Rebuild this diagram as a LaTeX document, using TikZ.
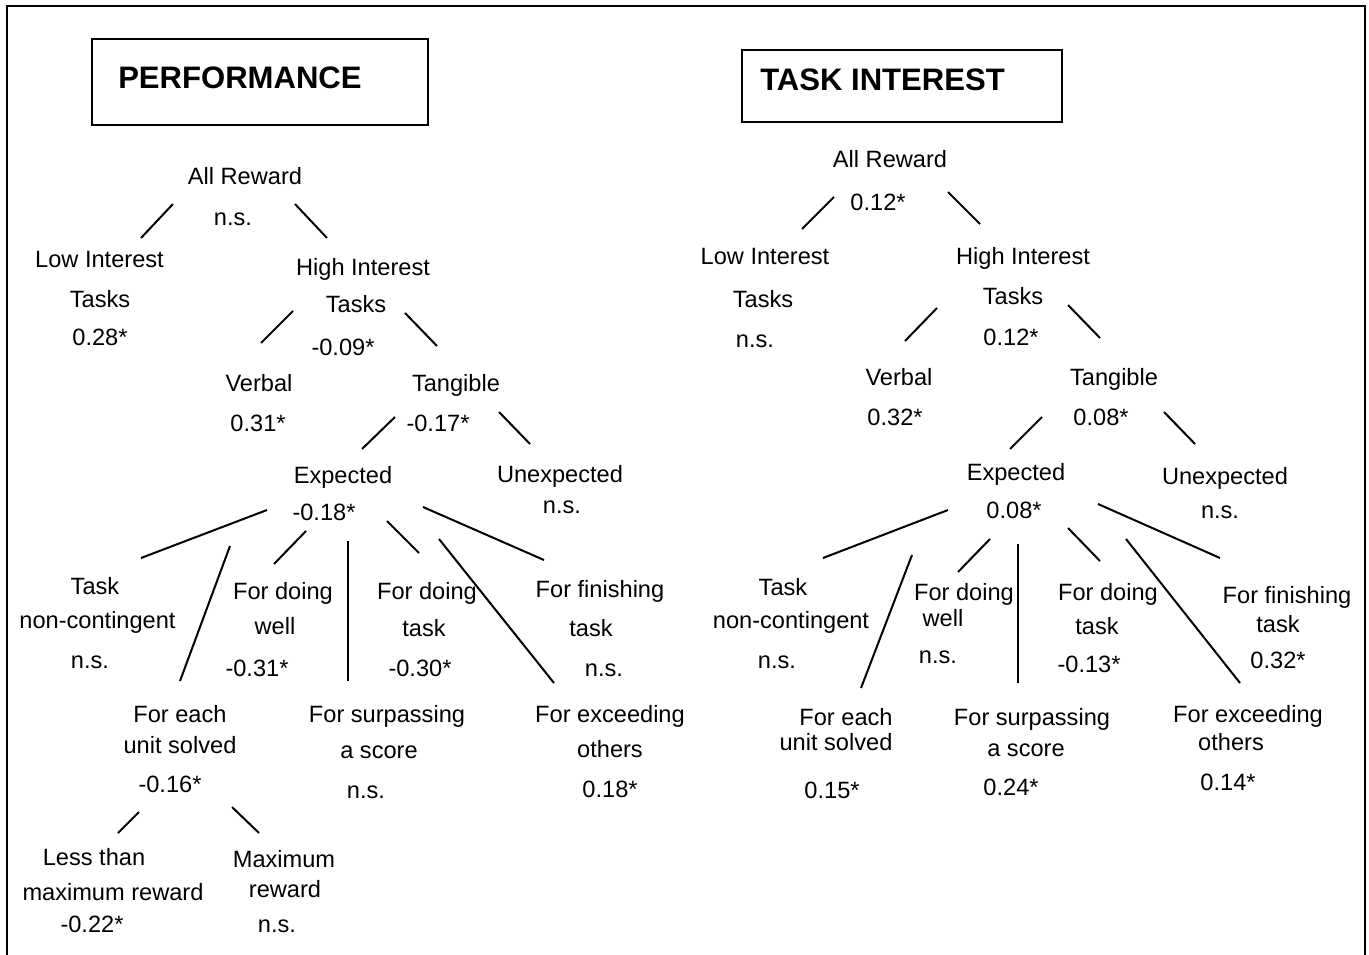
\documentclass[tikz,border=0pt]{standalone}
\usepackage{fontspec}
\setmainfont{Liberation Sans}
\begin{document}
\begin{tikzpicture}[x=0.75pt,y=-0.75pt,
  lbl/.style={anchor=base,inner sep=0pt,font=\fontsize{17.7}{20}\selectfont},
  ttl/.style={anchor=base west,inner sep=0pt,font=\fontsize{23.3}{26}\selectfont\bfseries},
  tbox/.style={draw,line width=1.6pt,inner sep=0pt},
  conn/.style={line width=1.5pt},
  frame/.style={line width=1.6pt}]
\useasboundingbox (0,0) rectangle (1369,955);
% outer frame
\coordinate (fbl) at (7,958);
\coordinate (ftl) at (7,6);
\coordinate (ftr) at (1365,6);
\coordinate (fbr) at (1365,958);
\draw[frame] (fbl) -- (ftl) -- (ftr) -- (fbr);

% ===== PERFORMANCE =====
\node[tbox,minimum width=252pt,minimum height=64.5pt] (pbox) at (260,82) {};
\node[ttl] (ptitle) at (118,89) {PERFORMANCE};

\node[lbl] (pAR) at (245,185) {All Reward};
\node[lbl] (pARv) at (233,226) {n.s.};
\node[lbl] (pLI1) at (99.5,268) {Low Interest};
\node[lbl] (pLI2) at (100,308) {Tasks};
\node[lbl] (pLIv) at (100,345) {0.28*};
\node[lbl] (pHI1) at (363,276) {High Interest};
\node[lbl] (pHI2) at (356,313) {Tasks};
\node[lbl] (pHIv) at (343,355) {-0.09*};
\node[lbl] (pVe) at (259,391) {Verbal};
\node[lbl] (pVev) at (258,431) {0.31*};
\node[lbl] (pTa) at (456,391) {Tangible};
\node[lbl] (pTav) at (438,431) {-0.17*};
\node[lbl] (pEx) at (343,483) {Expected};
\node[lbl] (pExv) at (324,520) {-0.18*};
\node[lbl] (pUn) at (560,482) {Unexpected};
\node[lbl] (pUnv) at (562,513) {n.s.};
\node[lbl] (pTN1) at (95,594) {Task};
\node[lbl] (pTN2) at (97.5,628) {non-contingent};
\node[lbl] (pTNv) at (90,668) {n.s.};
\node[lbl] (pDW1) at (283,599) {For doing};
\node[lbl] (pDW2) at (275,634) {well};
\node[lbl] (pDWv) at (257,676) {-0.31*};
\node[lbl] (pDT1) at (427,599) {For doing};
\node[lbl] (pDT2) at (424,636) {task};
\node[lbl] (pDTv) at (420,676) {-0.30*};
\node[lbl] (pFT1) at (600,597) {For finishing};
\node[lbl] (pFT2) at (591,636) {task};
\node[lbl] (pFTv) at (604,676) {n.s.};
\node[lbl] (pEU1) at (180,722) {For each};
\node[lbl] (pEU2) at (180,753) {unit solved};
\node[lbl] (pEUv) at (170,792) {-0.16*};
\node[lbl] (pSS1) at (387,722) {For surpassing};
\node[lbl] (pSS2) at (379,758) {a score};
\node[lbl] (pSSv) at (366,798) {n.s.};
\node[lbl] (pEO1) at (610,722) {For exceeding};
\node[lbl] (pEO2) at (610,757) {others};
\node[lbl] (pEOv) at (610,797) {0.18*};
\node[lbl] (pLT1) at (94,865) {Less than};
\node[lbl] (pLT2) at (113,900) {maximum reward};
\node[lbl] (pLTv) at (92,932) {-0.22*};
\node[lbl] (pMR1) at (284,867) {Maximum};
\node[lbl] (pMR2) at (285,897) {reward};
\node[lbl] (pMRv) at (277,932) {n.s.};

% connectors (performance)
\coordinate (pa1) at (173,204); \coordinate (pa2) at (141,238);
\coordinate (pb1) at (295,204); \coordinate (pb2) at (327,238);
\coordinate (pc1) at (293,311); \coordinate (pc2) at (261,343);
\coordinate (pd1) at (405,313); \coordinate (pd2) at (437,346);
\coordinate (pe1) at (395,417); \coordinate (pe2) at (362,449);
\coordinate (pf1) at (499,412); \coordinate (pf2) at (530,444);
\coordinate (pg1) at (267,510); \coordinate (pg2) at (141,558);
\coordinate (ph1) at (230,546); \coordinate (ph2) at (180,681);
\coordinate (pi1) at (306,531); \coordinate (pi2) at (274,564);
\coordinate (pj1) at (348,541); \coordinate (pj2) at (348,681);
\coordinate (pk1) at (387,521); \coordinate (pk2) at (419,553);
\coordinate (pl1) at (439,539); \coordinate (pl2) at (554,683);
\coordinate (pm1) at (423,507); \coordinate (pm2) at (544,560);
\coordinate (pn1) at (139,812); \coordinate (pn2) at (118,833);
\coordinate (po1) at (232,807); \coordinate (po2) at (259,833);
\foreach \s in {pa,pb,pc,pd,pe,pf,pg,ph,pi,pj,pk,pl,pm,pn,po}
  \draw[conn] (\s1) -- (\s2);

% ===== TASK INTEREST =====
\node[tbox,minimum width=240pt,minimum height=54pt] (tbox) at (902,86) {};
\node[ttl] (ttitle) at (760,91) {TASK INTEREST};

\node[lbl] (tAR) at (890,168) {All Reward};
\node[lbl] (tARv) at (878,211) {0.12*};
\node[lbl] (tLI1) at (765,265) {Low Interest};
\node[lbl] (tLI2) at (763,308) {Tasks};
\node[lbl] (tLIv) at (755,347) {n.s.};
\node[lbl] (tHI1) at (1023,265) {High Interest};
\node[lbl] (tHI2) at (1013,305) {Tasks};
\node[lbl] (tHIv) at (1011,345) {0.12*};
\node[lbl] (tVe) at (899,385) {Verbal};
\node[lbl] (tVev) at (895,425) {0.32*};
\node[lbl] (tTa) at (1114,385) {Tangible};
\node[lbl] (tTav) at (1101,425) {0.08*};
\node[lbl] (tEx) at (1016,480) {Expected};
\node[lbl] (tExv) at (1014,518) {0.08*};
\node[lbl] (tUn) at (1225,484) {Unexpected};
\node[lbl] (tUnv) at (1220,518) {n.s.};
\node[lbl] (tTN1) at (783,595) {Task};
\node[lbl] (tTN2) at (791,628) {non-contingent};
\node[lbl] (tTNv) at (777,668) {n.s.};
\node[lbl] (tDW1) at (964,600) {For doing};
\node[lbl] (tDW2) at (943,626) {well};
\node[lbl] (tDWv) at (938,663) {n.s.};
\node[lbl] (tDT1) at (1108,600) {For doing};
\node[lbl] (tDT2) at (1097,634) {task};
\node[lbl] (tDTv) at (1089,672) {-0.13*};
\node[lbl] (tFT1) at (1287,603) {For finishing};
\node[lbl] (tFT2) at (1278,632) {task};
\node[lbl] (tFTv) at (1278,668) {0.32*};
\node[lbl] (tEU1) at (846,725) {For each};
\node[lbl] (tEU2) at (836,750) {unit solved};
\node[lbl] (tEUv) at (832,798) {0.15*};
\node[lbl] (tSS1) at (1032,725) {For surpassing};
\node[lbl] (tSS2) at (1026,756) {a score};
\node[lbl] (tSSv) at (1011,795) {0.24*};
\node[lbl] (tEO1) at (1248,722) {For exceeding};
\node[lbl] (tEO2) at (1231,750) {others};
\node[lbl] (tEOv) at (1228,790) {0.14*};

% connectors (task interest)
\coordinate (ta1) at (834,197); \coordinate (ta2) at (802,229);
\coordinate (tb1) at (948,192); \coordinate (tb2) at (980,224);
\coordinate (tc1) at (937,308); \coordinate (tc2) at (905,341);
\coordinate (td1) at (1068,305); \coordinate (td2) at (1100,338);
\coordinate (te1) at (1042,417); \coordinate (te2) at (1010,449);
\coordinate (tf1) at (1164,412); \coordinate (tf2) at (1195,444);
\coordinate (tg1) at (948,510); \coordinate (tg2) at (823,558);
\coordinate (th1) at (912,555); \coordinate (th2) at (861,688);
\coordinate (ti1) at (990,539); \coordinate (ti2) at (958,572);
\coordinate (tj1) at (1018,544); \coordinate (tj2) at (1018,683);
\coordinate (tk1) at (1068,528); \coordinate (tk2) at (1100,561);
\coordinate (tl1) at (1126,539); \coordinate (tl2) at (1240,683);
\coordinate (tm1) at (1098,504); \coordinate (tm2) at (1220,558);
\foreach \s in {ta,tb,tc,td,te,tf,tg,th,ti,tj,tk,tl,tm}
  \draw[conn] (\s1) -- (\s2);
\end{tikzpicture}
\end{document}
